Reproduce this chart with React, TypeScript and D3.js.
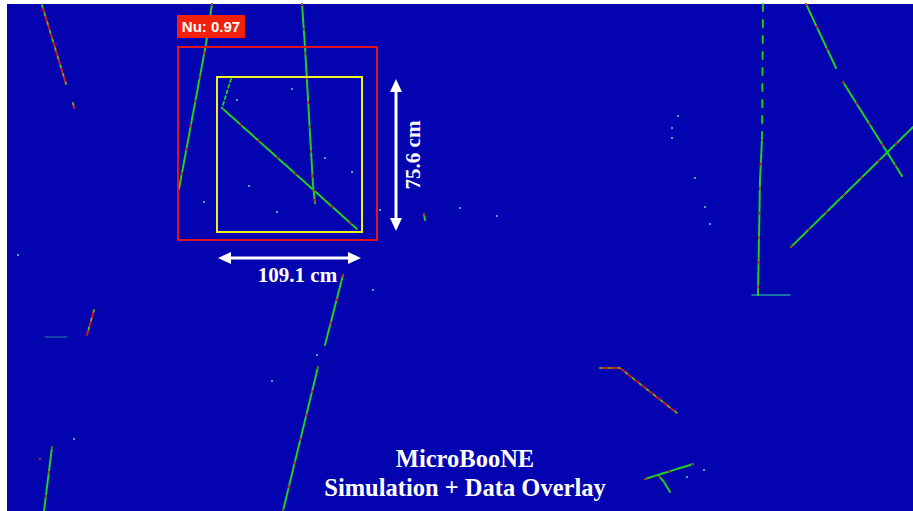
import * as React from "react"
import * as d3 from "d3"

type Pt = [number, number]

// detector coordinates (wire, tick), offset from the top-left of the display
const trackMuonLeft: Pt[] = [[35, 1], [59, 80]]
const trackStubLeft: Pt[] = [[66, 99], [67, 104]]
const trackCosmicA: Pt[] = [[205, 0], [199, 40], [172, 185]]
const trackCosmicB: Pt[] = [[295, 0], [298, 43], [306, 181], [308, 199]]
const trackNuShort: Pt[] = [[224, 75], [215, 104]]
const trackNuLong: Pt[] = [[215, 104], [350, 225]]
const trackMidUpper: Pt[] = [[336, 271], [318, 341]]
const trackMidLower: Pt[] = [[311, 363], [276, 507]]
const trackRedLeft: Pt[] = [[87, 306], [80, 331]]
const trackFaint: Pt[] = [[38, 333], [60, 333]]
const trackBottomLeft: Pt[] = [[45, 443], [37, 507]]
const trackVerticalTop: Pt[] = [[756, 0], [755, 135]]
const trackVertical: Pt[] = [[755, 135], [753, 176], [751, 291]]
const trackFoot: Pt[] = [[745, 291], [783, 291]]
const trackDiagA: Pt[] = [[799, 0], [829, 64]]
const trackDiagB: Pt[] = [[836, 78], [895, 172]]
const trackCross: Pt[] = [[784, 243], [906, 123]]
const trackCurved: Pt[] = [[593, 364], [613, 364], [623, 372], [670, 409]]
const trackFork: Pt[] = [[638, 475], [686, 460]]
const trackForkBranch: Pt[] = [[652, 472], [657, 478], [663, 488]]
const trackSmall: Pt[] = [[417, 210], [418, 216]]

const greenTracks = [trackCosmicA, trackCosmicB, trackNuLong, trackMidUpper, trackMidLower,
    trackBottomLeft, trackVertical, trackDiagA, trackDiagB, trackCross, trackFork,
    trackForkBranch, trackSmall]
const redTracks = [trackMuonLeft, trackStubLeft, trackRedLeft, trackCurved]
const dottedTracks = [trackNuShort, trackVerticalTop]
const faintTracks = [trackFaint, trackFoot]

const hits: Pt[] = [[285, 85], [242, 182], [197, 198], [270, 208], [318, 154], [373, 206],
    [453, 204], [490, 212], [671, 112], [665, 124], [665, 134], [688, 174], [698, 203],
    [703, 220], [310, 351], [265, 377], [366, 286], [67, 435], [11, 251], [697, 466],
    [680, 473], [230, 96], [345, 168]]
const redHits: Pt[] = [[33, 455]]

// reconstructed neutrino box and its 2D bounding box
const cropBox = [171, 43, 370, 236]
const nuBox = [210, 73, 355, 228]
const nuScore = 0.97
const widthCm = 109.1
const heightCm = 75.6
const titleLines = ["MicroBooNE", "Simulation + Data Overlay"]

class EventDisplay extends React.Component<{}, {}> {
    container: SVGSVGElement | null = null

    componentDidMount(): void {
        this.draw()
    }

    draw = (): void => {
        const width = 913
        const height = 511
        const svg = d3.select(this.container)
        svg.selectAll("*").remove()

        const x = d3.scaleLinear().domain([0, 906]).range([7, 913])
        const y = d3.scaleLinear().domain([0, 507]).range([4, 511])

        svg.append("rect").attr("width", width).attr("height", height).attr("fill", "#ffffff")
        svg.append("rect")
            .attr("x", x(0)).attr("y", y(0))
            .attr("width", x(906) - x(0)).attr("height", y(507) - y(0))
            .attr("fill", "#0303af")

        const line = d3.line<Pt>().x(d => x(d[0])).y(d => y(d[1]))
        const g = svg.append("g").attr("stroke-linecap", "round").attr("fill", "none")

        // faint induction-like tracks
        g.selectAll(".faint").data(faintTracks).enter().append("path")
            .attr("d", d => line(d))
            .attr("stroke", "#2bb7a0").attr("stroke-width", 1.4)
            .attr("opacity", (d, i) => i === 0 ? 0.45 : 0.8)

        // green tracks with a sprinkle of red hits
        g.selectAll(".green").data(greenTracks).enter().append("path")
            .attr("d", d => line(d))
            .attr("stroke", "#1ed21e").attr("stroke-width", 2)
            .attr("stroke-dasharray", "6,1")
        g.selectAll(".greenRed").data(greenTracks).enter().append("path")
            .attr("d", d => line(d))
            .attr("stroke", "#c81a1a").attr("stroke-width", 1.6)
            .attr("stroke-dasharray", "1.5,23")

        // red-heavy tracks
        g.selectAll(".red").data(redTracks).enter().append("path")
            .attr("d", d => line(d))
            .attr("stroke", "#d21a1a").attr("stroke-width", 2)
        g.selectAll(".redGreen").data(redTracks).enter().append("path")
            .attr("d", d => line(d))
            .attr("stroke", "#2ed02e").attr("stroke-width", 1.6)
            .attr("stroke-dasharray", "2,7")

        g.selectAll(".dotted").data(dottedTracks).enter().append("path")
            .attr("d", d => line(d))
            .attr("stroke", "#1ed21e").attr("stroke-width", 1.8)
            .attr("stroke-dasharray", (d, i) => i === 0 ? "3,3" : "7,9")

        svg.selectAll(".hit").data(hits).enter().append("rect")
            .attr("x", d => x(d[0]) - 1).attr("y", d => y(d[1]) - 1)
            .attr("width", 2).attr("height", 2).attr("fill", "#3aa8c8")
        svg.selectAll(".redHit").data(redHits).enter().append("rect")
            .attr("x", d => x(d[0]) - 1).attr("y", d => y(d[1]) - 1)
            .attr("width", 2).attr("height", 2).attr("fill", "#c81a1a")

        // boxes
        svg.append("rect")
            .attr("x", x(cropBox[0])).attr("y", y(cropBox[1]))
            .attr("width", x(cropBox[2]) - x(cropBox[0])).attr("height", y(cropBox[3]) - y(cropBox[1]))
            .attr("fill", "none").attr("stroke", "#e0141e").attr("stroke-width", 2)
        svg.append("rect")
            .attr("x", x(nuBox[0])).attr("y", y(nuBox[1]))
            .attr("width", x(nuBox[2]) - x(nuBox[0])).attr("height", y(nuBox[3]) - y(nuBox[1]))
            .attr("fill", "none").attr("stroke", "#f2f21e").attr("stroke-width", 2)

        // score label
        const lx = x(cropBox[0]) - 1
        const ly = y(cropBox[1]) - 32
        svg.append("rect").attr("x", lx).attr("y", ly).attr("width", 68).attr("height", 23)
            .attr("fill", "#f0200a")
        svg.append("text").attr("x", lx + 34).attr("y", ly + 17)
            .attr("text-anchor", "middle").attr("fill", "#ffffff")
            .attr("font-family", "Liberation Sans, Arial, sans-serif")
            .attr("font-weight", "bold").attr("font-size", 15)
            .text("Nu: " + nuScore.toFixed(2))

        // dimension arrows
        const arrowG = svg.append("g").attr("fill", "#ffffff").attr("stroke", "#ffffff")
        const ax = x(nuBox[2]) + 34
        const ay0 = y(nuBox[1]) + 2
        const ay1 = y(nuBox[3]) - 1
        arrowG.append("line").attr("x1", ax).attr("x2", ax).attr("y1", ay0 + 8).attr("y2", ay1 - 8)
            .attr("stroke-width", 3)
        arrowG.append("path").attr("stroke", "none")
            .attr("d", `M${ax},${ay0} L${ax - 6},${ay0 + 13} L${ax + 6},${ay0 + 13} Z`)
        arrowG.append("path").attr("stroke", "none")
            .attr("d", `M${ax},${ay1} L${ax - 6},${ay1 - 13} L${ax + 6},${ay1 - 13} Z`)

        const hy = y(nuBox[3]) + 26
        const hx0 = x(nuBox[0]) + 1
        const hx1 = x(nuBox[2]) - 1
        arrowG.append("line").attr("x1", hx0 + 8).attr("x2", hx1 - 8).attr("y1", hy).attr("y2", hy)
            .attr("stroke-width", 3)
        arrowG.append("path").attr("stroke", "none")
            .attr("d", `M${hx0},${hy} L${hx0 + 13},${hy - 6} L${hx0 + 13},${hy + 6} Z`)
        arrowG.append("path").attr("stroke", "none")
            .attr("d", `M${hx1},${hy} L${hx1 - 13},${hy - 6} L${hx1 - 13},${hy + 6} Z`)

        const serif = "Liberation Serif, Times New Roman, serif"
        svg.append("text")
            .attr("transform", `translate(${ax + 24},${(ay0 + ay1) / 2}) rotate(-90)`)
            .attr("text-anchor", "middle").attr("fill", "#ffffff")
            .attr("font-family", serif).attr("font-weight", "bold").attr("font-size", 21)
            .text(heightCm.toFixed(1) + " cm")
        svg.append("text")
            .attr("x", (hx0 + hx1) / 2 + 8).attr("y", hy + 24)
            .attr("text-anchor", "middle").attr("fill", "#ffffff")
            .attr("font-family", serif).attr("font-weight", "bold").attr("font-size", 21)
            .text(widthCm.toFixed(1) + " cm")

        svg.selectAll(".title").data(titleLines).enter().append("text")
            .attr("x", 465).attr("y", (d, i) => 467 + i * 29)
            .attr("text-anchor", "middle").attr("fill", "#ffffff")
            .attr("font-family", serif).attr("font-weight", "bold").attr("font-size", 24.5)
            .text(d => d)
    }

    render(): JSX.Element {
        return (
            <svg
                ref={(el) => { this.container = el }}
                width={913}
                height={511}
                style={{ position: "absolute", left: 0, top: 0, display: "block" }}
            />
        )
    }
}

export default function App(): JSX.Element {
    return <EventDisplay />
}
